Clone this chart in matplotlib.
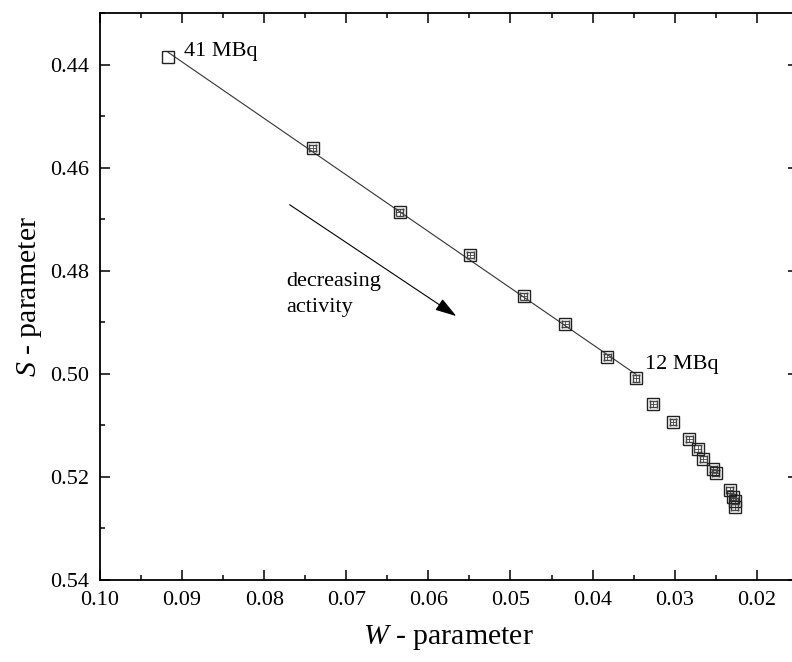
import matplotlib
matplotlib.use("Agg")
from matplotlib import pyplot as plt
import numpy as np

plt.rcParams['font.family'] = ['Liberation Serif', 'DejaVu Serif']
plt.rcParams['mathtext.fontset'] = 'custom'
plt.rcParams['mathtext.rm'] = 'Liberation Serif'
plt.rcParams['mathtext.it'] = 'Liberation Serif:italic'

# W and S parameters, from highest activity (41 MBq) to lowest
w_param = [0.0917, 0.0741, 0.0635, 0.0549, 0.0484, 0.0433, 0.0382, 0.0347,
           0.0326, 0.0302, 0.0282, 0.0272, 0.0265, 0.0253, 0.0250,
           0.0233, 0.0229, 0.0227, 0.0227]
s_param = [0.4385, 0.4562, 0.4687, 0.4769, 0.4850, 0.4903, 0.4968, 0.5009,
           0.5058, 0.5094, 0.5126, 0.5145, 0.5165, 0.5184, 0.5193,
           0.5225, 0.5239, 0.5247, 0.5258]
w_err = [0.0] + [0.0004] * 18
s_err = [0.0] + [0.0006] * 18

n_fit = 8  # 41 MBq ... 12 MBq

fig = plt.figure(figsize=(7.92, 6.62), dpi=100)
ax = fig.add_axes([0.1263, 0.1239, 0.881, 0.8565])

# first point has no visible error bars
ax.plot(w_param[:1], s_param[:1], 's', ms=8, mfc='none', mec='#222222',
        mew=1.0, zorder=3)
ax.errorbar(w_param[1:], s_param[1:], xerr=w_err[1:], yerr=s_err[1:],
            fmt='s', ms=8, mfc='none', mec='#222222', mew=1.0,
            ecolor='#444444', elinewidth=0.6, capsize=3, capthick=0.6,
            zorder=3)

coef = np.polyfit(w_param[:n_fit], s_param[:n_fit], 1)
xf = np.array([w_param[0], w_param[n_fit - 1]])
ax.plot(xf, np.polyval(coef, xf), color='#333333', lw=0.8, zorder=2)

ax.text(0.0898, 0.4383, '41 MBq', fontsize=16, va='baseline', ha='left')
ax.text(0.0336, 0.4991, '12 MBq', fontsize=16, va='baseline', ha='left')
ax.text(0.0773, 0.4802, 'decreasing\nactivity', fontsize=16, va='top',
        ha='left', linespacing=1.55)
ax.annotate('', xy=(0.0566, 0.4888), xytext=(0.0769, 0.4672),
            arrowprops=dict(arrowstyle='-|>,head_length=0.55,head_width=0.17',
                            color='black', lw=0.8,
                            mutation_scale=24, shrinkA=0, shrinkB=0))

ax.set_xlim(0.10, 0.015)
ax.set_ylim(0.54, 0.43)
ax.set_xticks(np.arange(0.10, 0.0149, -0.01))
ax.set_yticks(np.arange(0.44, 0.5401, 0.02))
ax.xaxis.set_major_formatter(matplotlib.ticker.FormatStrFormatter('%.2f'))
ax.yaxis.set_major_formatter(matplotlib.ticker.FormatStrFormatter('%.2f'))
ax.xaxis.set_minor_locator(matplotlib.ticker.MultipleLocator(0.005))
ax.yaxis.set_minor_locator(matplotlib.ticker.MultipleLocator(0.01))
ax.tick_params(which='both', direction='in', top=True, right=True,
               labelsize=16, width=1.1)
ax.tick_params(which='major', length=7, pad=8)
ax.tick_params(which='minor', length=3.5)
for sp in ax.spines.values():
    sp.set_linewidth(1.3)

ax.set_xlabel('$W$ - parameter', fontsize=21.5, labelpad=9)
ax.set_ylabel('$S$ - parameter', fontsize=21.5, labelpad=4)

fig.savefig('out.png', dpi=100)
